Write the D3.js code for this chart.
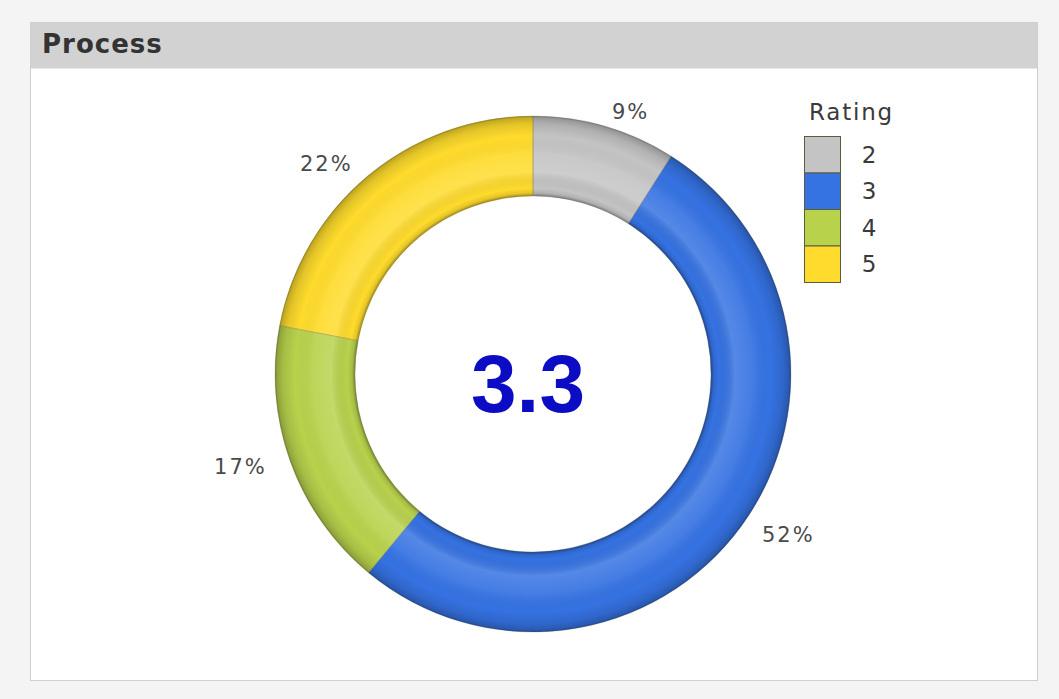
<!DOCTYPE html>
<html>
<head>
<meta charset="utf-8">
<script src="https://cdn.jsdelivr.net/npm/d3@7"></script>
<style>
  html, body { margin: 0; padding: 0; background: #f4f4f4; }
  svg { display: block; }
</style>
</head>
<body>
<svg id="chart" width="1059" height="699"></svg>
<script>
// Rating distribution for the "Process" panel
const ratings = ["2", "3", "4", "5"];
const shares = [9, 52, 17, 22];           // percent of responses per rating
const ratingColors = ["#c4c4c4", "#3572e2", "#b8d24c", "#fedb2c"];
const averageRating = "3.3";
const panelTitle = "Process";
const legendTitle = "Rating";

const svg = d3.select("#chart");
const labelFont = "DejaVu Sans, Verdana, sans-serif";

// panel frame
const panel = { x: 30.5, y: 22.5, w: 1007, h: 658 };
svg.append("rect")
  .attr("x", panel.x).attr("y", panel.y)
  .attr("width", panel.w).attr("height", panel.h)
  .attr("fill", "#ffffff").attr("stroke", "#cfcfcf");
svg.append("rect")
  .attr("x", panel.x).attr("y", panel.y)
  .attr("width", panel.w).attr("height", 46)
  .attr("fill", "#d2d2d2");
svg.append("text")
  .attr("x", 42).attr("y", 53)
  .attr("font-family", labelFont)
  .attr("font-weight", "bold")
  .attr("font-size", 26)
  .attr("letter-spacing", 1)
  .attr("fill", "#333")
  .text(panelTitle);

// donut
const cx = 533, cy = 374, rOuter = 258, rInner = 178;
const defs = svg.append("defs");

const pie = d3.pie().sort(null).value(d => d.v);
const data = ratings.map((r, i) => ({ r, v: shares[i], c: ratingColors[i] }));
const arcs = pie(data);
const arc = d3.arc().innerRadius(rInner).outerRadius(rOuter);

const g = svg.append("g").attr("transform", `translate(${cx},${cy})`);

g.selectAll("path.slice")
  .data(arcs)
  .join("path")
  .attr("class", "slice")
  .attr("d", arc)
  .attr("fill", d => d.data.c);

// tube-like shading across the ring width
const shade = defs.append("radialGradient")
  .attr("id", "ringShade")
  .attr("gradientUnits", "userSpaceOnUse")
  .attr("cx", 0).attr("cy", 0).attr("r", rOuter);
const f = v => v / rOuter;
[
  [f(rInner), "#000", 0.38],
  [f(rInner + 3), "#000", 0.10],
  [f(rInner + 8), "#000", 0.0],
  [f(rInner + 24), "#fff", 0.16],
  [f(rInner + 42), "#fff", 0.08],
  [f(rInner + 60), "#000", 0.0],
  [f(rOuter - 8), "#000", 0.10],
  [f(rOuter - 2), "#000", 0.22],
  [1, "#000", 0.4]
].forEach(([o, c, a]) => shade.append("stop")
  .attr("offset", o).attr("stop-color", c).attr("stop-opacity", a));

g.append("path")
  .attr("d", d3.arc().innerRadius(rInner).outerRadius(rOuter)({ startAngle: 0, endAngle: 2 * Math.PI }))
  .attr("fill", "url(#ringShade)");

// thin seams between slices
g.selectAll("path.seam")
  .data(arcs)
  .join("path")
  .attr("class", "seam")
  .attr("d", arc)
  .attr("fill", "none")
  .attr("stroke", "#6b6a4a")
  .attr("stroke-opacity", 0.25)
  .attr("stroke-width", 1);

// percentage labels outside the ring
const labelRx = 283, labelRy = 273;
g.selectAll("text.pct")
  .data(arcs)
  .join("text")
  .attr("class", "pct")
  .each(function (d) {
    const a = (d.startAngle + d.endAngle) / 2;
    const x = labelRx * Math.sin(a), y = -labelRy * Math.cos(a);
    d3.select(this)
      .attr("x", x).attr("y", y)
      .attr("text-anchor", x >= 0 ? "start" : "end");
  })
  .attr("dy", "0.34em")
  .attr("font-family", labelFont)
  .attr("font-size", 21)
  .attr("letter-spacing", 2)
  .attr("fill", "#4a4a4a")
  .text(d => d.data.v + "%");

// centre value
g.append("text")
  .attr("x", -5).attr("y", 38)
  .attr("text-anchor", "middle")
  .attr("font-family", "Liberation Sans, Arial, sans-serif")
  .attr("font-weight", "bold")
  .attr("font-size", 82)
  .attr("fill", "#0c0cc4")
  .text(averageRating);

// legend
const lg = svg.append("g").attr("transform", "translate(804,136)");
lg.append("text")
  .attr("x", 5).attr("y", -16)
  .attr("font-family", labelFont)
  .attr("font-size", 23)
  .attr("letter-spacing", 1.8)
  .attr("fill", "#3a3a3a")
  .text(legendTitle);
const box = d3.scaleBand().domain(ratings).range([0, 146]).padding(0);
lg.selectAll("rect")
  .data(data)
  .join("rect")
  .attr("x", 0.5).attr("y", d => box(d.r) + 0.5)
  .attr("width", 36).attr("height", box.bandwidth())
  .attr("fill", d => d.c)
  .attr("stroke", "#5e5a3e")
  .attr("stroke-width", 1);
lg.selectAll("text.item")
  .data(data)
  .join("text")
  .attr("class", "item")
  .attr("x", 65).attr("y", d => box(d.r) + box.bandwidth() / 2)
  .attr("dy", "0.36em")
  .attr("text-anchor", "middle")
  .attr("font-family", labelFont)
  .attr("font-size", 23)
  .attr("fill", "#3a3a3a")
  .text(d => d.r);
</script>
</body>
</html>
